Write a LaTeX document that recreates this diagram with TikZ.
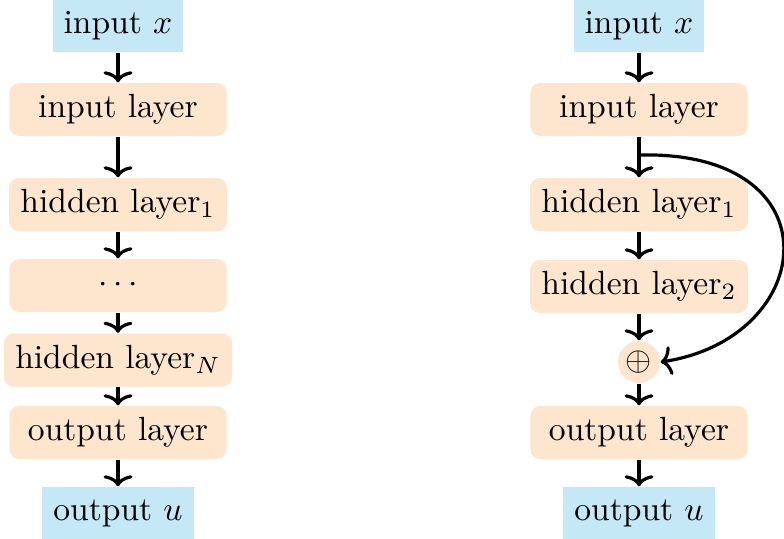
\documentclass[tikz,border=0pt]{standalone}
\usetikzlibrary{arrows.meta}
\definecolor{boxorange}{RGB}{254,230,206}
\definecolor{boxblue}{RGB}{197,232,247}
\begin{document}
\begin{tikzpicture}[x=0.298pt,y=-0.298pt,
  layer/.style={fill=boxorange,rounded corners=2.9pt,minimum width=64.7pt,minimum height=15.8pt,inner xsep=3.4pt,inner ysep=0pt},
  io/.style={fill=boxblue,minimum height=15.5pt,inner xsep=3.3pt,inner ysep=0pt},
  plus/.style={circle,fill=boxorange,minimum size=12.5pt,inner sep=0pt},
  conn/.style={line width=0.95pt,-{To[length=3.3pt,width=8.6pt,line width=0.95pt]}}]
\useasboundingbox (0,0) rectangle (784,538);
% left column
\node[io] (Lin) at (118,26) {input $x$};
\node[layer] (Linl) at (118,109.5) {input layer};
\node[layer] (Lh1) at (118,204.5) {hidden layer$_1$};
\node[layer] (Ldots) at (118,285.5) {$\cdots$};
\node[layer] (LhN) at (118,360) {hidden layer$_N$};
\node[layer] (Lout) at (118,432.5) {output layer};
\node[io] (Lu) at (118,513) {output $u$};
\draw[conn] (Lin) -- (Linl);
\draw[conn] (Linl) -- (Lh1);
\draw[conn] (Lh1) -- (Ldots);
\draw[conn] (Ldots) -- (LhN);
\draw[conn] (LhN) -- (Lout);
\draw[conn] (Lout) -- (Lu);
% right column
\node[io] (Rin) at (639,26) {input $x$};
\node[layer] (Rinl) at (639,109.5) {input layer};
\node[layer] (Rh1) at (639,204.5) {hidden layer$_1$};
\node[layer] (Rh2) at (639,286.5) {hidden layer$_2$};
\node[plus] (Rp) at (639,362) {$\oplus$};
\node[layer] (Rout) at (639,432.5) {output layer};
\node[io] (Ru) at (639,513) {output $u$};
\draw[conn] (Rin) -- (Rinl);
\draw[conn] (Rinl) -- (Rh1);
\draw[conn] (Rh1) -- (Rh2);
\draw[conn] (Rh2) -- (Rp);
\draw[conn] (Rp) -- (Rout);
\draw[conn] (Rout) -- (Ru);
\coordinate (skip) at (639,155);
\draw[conn] (skip) .. controls (838,150) and (818,338) .. (Rp.east);
\end{tikzpicture}
\end{document}
